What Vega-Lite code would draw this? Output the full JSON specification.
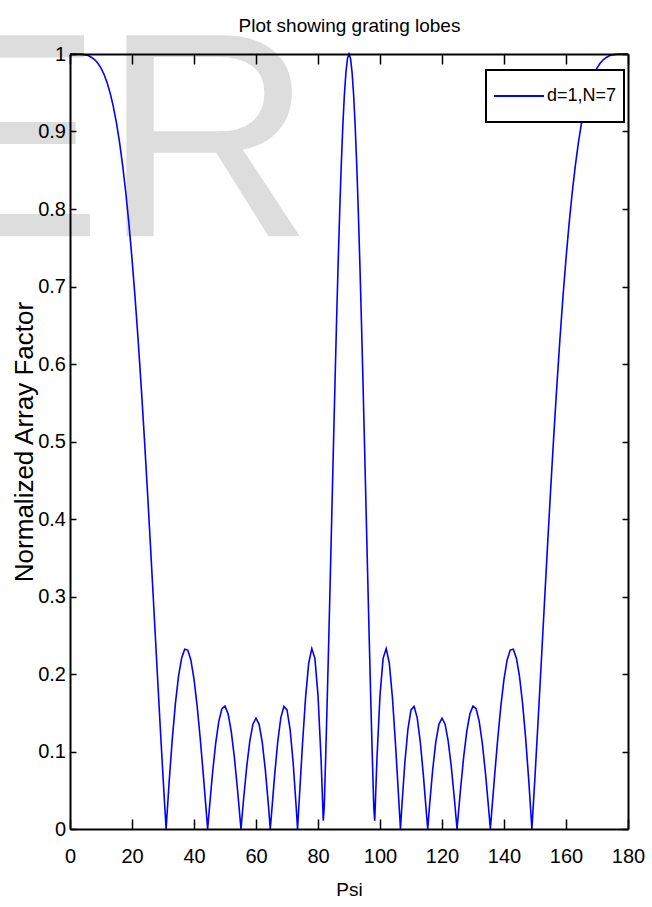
{
  "$schema": "https://vega.github.io/schema/vega-lite/v6.json",
  "autosize": {"type": "none"},
  "width": 558,
  "height": 775,
  "padding": {"left": 70, "top": 54, "right": 24, "bottom": 78},
  "background": "white",
  "config": {"view": {"stroke": null}},
  "resolve": {"axis": {"x": "independent", "y": "independent"}},
  "layer": [
    {
      "data": {"values": [{"wm": "ER"}]},
      "mark": {"type": "text", "font": "Liberation Sans", "fontSize": 292, "color": "#dddddd", "align": "right", "baseline": "alphabetic"},
      "encoding": {
        "text": {"field": "wm", "type": "nominal"},
        "x": {"datum": 78.5, "type": "quantitative", "scale": {"domain": [0, 180], "nice": false, "zero": false},
          "axis": {"orient": "top", "labels": false, "values": [0, 20, 40, 60, 80, 100, 120, 140, 160, 180], "tickSize": -10, "tickColor": "black", "tickWidth": 1.5, "domainColor": "black", "domainWidth": 2, "grid": false, "zindex": 1,
            "title": "Plot showing grating lobes", "titleFont": "Liberation Sans", "titleFontSize": 19, "titleFontWeight": "normal", "titleColor": "black", "titleBaseline": "alphabetic", "titlePadding": 21.5}},
        "y": {"datum": 0.765, "type": "quantitative", "scale": {"domain": [0, 1], "nice": false, "zero": false},
          "axis": {"orient": "right", "labels": false, "title": null, "values": [0, 0.1, 0.2, 0.3, 0.4, 0.5, 0.6, 0.7, 0.8, 0.9, 1], "tickSize": -6, "tickColor": "black", "tickWidth": 1.5, "domainColor": "black", "domainWidth": 2, "grid": false, "zindex": 1}}
      }
    },
    {
      "data": {"values": [
        {"psi": 0, "af": 1}, {"psi": 1, "af": 1}, {"psi": 2, "af": 1}, {"psi": 3, "af": 0.9999}, {"psi": 4, "af": 0.9995},
        {"psi": 5, "af": 0.9989}, {"psi": 6, "af": 0.9976}, {"psi": 7, "af": 0.9956}, {"psi": 8, "af": 0.9925}, {"psi": 9, "af": 0.9881},
        {"psi": 10, "af": 0.9819}, {"psi": 11, "af": 0.9736}, {"psi": 12, "af": 0.9627}, {"psi": 13, "af": 0.9489}, {"psi": 14, "af": 0.9317},
        {"psi": 15, "af": 0.9108}, {"psi": 16, "af": 0.8855}, {"psi": 17, "af": 0.8557}, {"psi": 18, "af": 0.821}, {"psi": 19, "af": 0.7812},
        {"psi": 20, "af": 0.736}, {"psi": 21, "af": 0.6854}, {"psi": 22, "af": 0.6296}, {"psi": 23, "af": 0.5689}, {"psi": 24, "af": 0.5037},
        {"psi": 25, "af": 0.4346}, {"psi": 26, "af": 0.3624}, {"psi": 27, "af": 0.2884}, {"psi": 28, "af": 0.2136}, {"psi": 29, "af": 0.1396},
        {"psi": 30, "af": 0.0679}, {"psi": 31, "af": 0}, {"psi": 32, "af": 0.0618}, {"psi": 33, "af": 0.1163}, {"psi": 34, "af": 0.1618},
        {"psi": 35, "af": 0.1969}, {"psi": 36, "af": 0.2205}, {"psi": 37, "af": 0.2319}, {"psi": 38, "af": 0.2309}, {"psi": 39, "af": 0.2178},
        {"psi": 40, "af": 0.1934}, {"psi": 41, "af": 0.1592}, {"psi": 42, "af": 0.1173}, {"psi": 43, "af": 0.0701}, {"psi": 44, "af": 0.0205},
        {"psi": 44.4, "af": 0}, {"psi": 45, "af": 0.0282}, {"psi": 46, "af": 0.073}, {"psi": 47, "af": 0.1107}, {"psi": 48, "af": 0.1388},
        {"psi": 49, "af": 0.1552}, {"psi": 50, "af": 0.1586}, {"psi": 51, "af": 0.1487}, {"psi": 52, "af": 0.1263}, {"psi": 53, "af": 0.0933},
        {"psi": 54, "af": 0.0523}, {"psi": 55, "af": 0.0069}, {"psi": 55.15, "af": 0}, {"psi": 56, "af": 0.0387}, {"psi": 57, "af": 0.0802},
        {"psi": 58, "af": 0.1135}, {"psi": 59, "af": 0.1353}, {"psi": 60, "af": 0.1429}, {"psi": 61, "af": 0.1351}, {"psi": 62, "af": 0.1124},
        {"psi": 63, "af": 0.0766}, {"psi": 64, "af": 0.0311}, {"psi": 64.6, "af": 0}, {"psi": 65, "af": 0.0192}, {"psi": 66, "af": 0.0689},
        {"psi": 67, "af": 0.1122}, {"psi": 68, "af": 0.1434}, {"psi": 69, "af": 0.1582}, {"psi": 70, "af": 0.1536}, {"psi": 71, "af": 0.1286},
        {"psi": 72, "af": 0.0849}, {"psi": 73, "af": 0.0262}, {"psi": 73.4, "af": 0}, {"psi": 74, "af": 0.0412}, {"psi": 75, "af": 0.1097},
        {"psi": 76, "af": 0.1702}, {"psi": 77, "af": 0.214}, {"psi": 78, "af": 0.2328}, {"psi": 79, "af": 0.2202}, {"psi": 80, "af": 0.1725},
        {"psi": 81, "af": 0.089}, {"psi": 81.7, "af": 0.0108}, {"psi": 82, "af": 0.0273}, {"psi": 82.5, "af": 0.0959}, {"psi": 83, "af": 0.1703},
        {"psi": 83.5, "af": 0.249}, {"psi": 84, "af": 0.3307}, {"psi": 84.5, "af": 0.4139}, {"psi": 85, "af": 0.497}, {"psi": 85.5, "af": 0.5784},
        {"psi": 86, "af": 0.6567}, {"psi": 86.5, "af": 0.73}, {"psi": 87, "af": 0.797}, {"psi": 87.5, "af": 0.8562}, {"psi": 88, "af": 0.9065},
        {"psi": 88.5, "af": 0.9467}, {"psi": 89, "af": 0.976}, {"psi": 89.5, "af": 0.9941}, {"psi": 90, "af": 1},
        {"psi": 90.5, "af": 0.9941}, {"psi": 91, "af": 0.976}, {"psi": 91.5, "af": 0.9467}, {"psi": 92, "af": 0.9065}, {"psi": 92.5, "af": 0.8562},
        {"psi": 93, "af": 0.797}, {"psi": 93.5, "af": 0.73}, {"psi": 94, "af": 0.6567}, {"psi": 94.5, "af": 0.5784}, {"psi": 95, "af": 0.497},
        {"psi": 95.5, "af": 0.4139}, {"psi": 96, "af": 0.3307}, {"psi": 96.5, "af": 0.249}, {"psi": 97, "af": 0.1703}, {"psi": 97.5, "af": 0.0959},
        {"psi": 98, "af": 0.0273}, {"psi": 98.3, "af": 0.0108}, {"psi": 99, "af": 0.089}, {"psi": 100, "af": 0.1725}, {"psi": 101, "af": 0.2202},
        {"psi": 102, "af": 0.2328}, {"psi": 103, "af": 0.214}, {"psi": 104, "af": 0.1702}, {"psi": 105, "af": 0.1097}, {"psi": 106, "af": 0.0412},
        {"psi": 106.6, "af": 0}, {"psi": 107, "af": 0.0262}, {"psi": 108, "af": 0.0849}, {"psi": 109, "af": 0.1286}, {"psi": 110, "af": 0.1536},
        {"psi": 111, "af": 0.1582}, {"psi": 112, "af": 0.1434}, {"psi": 113, "af": 0.1122}, {"psi": 114, "af": 0.0689}, {"psi": 115, "af": 0.0192},
        {"psi": 115.4, "af": 0}, {"psi": 116, "af": 0.0311}, {"psi": 117, "af": 0.0766}, {"psi": 118, "af": 0.1124}, {"psi": 119, "af": 0.1351},
        {"psi": 120, "af": 0.1429}, {"psi": 121, "af": 0.1353}, {"psi": 122, "af": 0.1135}, {"psi": 123, "af": 0.0802}, {"psi": 124, "af": 0.0387},
        {"psi": 124.85, "af": 0}, {"psi": 125, "af": 0.0069}, {"psi": 126, "af": 0.0523}, {"psi": 127, "af": 0.0933}, {"psi": 128, "af": 0.1263},
        {"psi": 129, "af": 0.1487}, {"psi": 130, "af": 0.1586}, {"psi": 131, "af": 0.1552}, {"psi": 132, "af": 0.1388}, {"psi": 133, "af": 0.1107},
        {"psi": 134, "af": 0.073}, {"psi": 135, "af": 0.0282}, {"psi": 135.6, "af": 0}, {"psi": 136, "af": 0.0205}, {"psi": 137, "af": 0.0701},
        {"psi": 138, "af": 0.1173}, {"psi": 139, "af": 0.1592}, {"psi": 140, "af": 0.1934}, {"psi": 141, "af": 0.2178}, {"psi": 142, "af": 0.2309},
        {"psi": 143, "af": 0.2319}, {"psi": 144, "af": 0.2205}, {"psi": 145, "af": 0.1969}, {"psi": 146, "af": 0.1618}, {"psi": 147, "af": 0.1163},
        {"psi": 148, "af": 0.0618}, {"psi": 149, "af": 0}, {"psi": 150, "af": 0.0679}, {"psi": 151, "af": 0.1396}, {"psi": 152, "af": 0.2136},
        {"psi": 153, "af": 0.2884}, {"psi": 154, "af": 0.3624}, {"psi": 155, "af": 0.4346}, {"psi": 156, "af": 0.5037}, {"psi": 157, "af": 0.5689},
        {"psi": 158, "af": 0.6296}, {"psi": 159, "af": 0.6854}, {"psi": 160, "af": 0.736}, {"psi": 161, "af": 0.7812}, {"psi": 162, "af": 0.821},
        {"psi": 163, "af": 0.8557}, {"psi": 164, "af": 0.8855}, {"psi": 165, "af": 0.9108}, {"psi": 166, "af": 0.9317}, {"psi": 167, "af": 0.9489},
        {"psi": 168, "af": 0.9627}, {"psi": 169, "af": 0.9736}, {"psi": 170, "af": 0.9819}, {"psi": 171, "af": 0.9881}, {"psi": 172, "af": 0.9925},
        {"psi": 173, "af": 0.9956}, {"psi": 174, "af": 0.9976}, {"psi": 175, "af": 0.9989}, {"psi": 176, "af": 0.9995}, {"psi": 177, "af": 0.9999},
        {"psi": 178, "af": 1}, {"psi": 179, "af": 1}, {"psi": 180, "af": 1}
      ]},
      "mark": {"type": "line", "strokeWidth": 1.6},
      "encoding": {
        "x": {"field": "psi", "type": "quantitative", "scale": {"domain": [0, 180], "nice": false, "zero": false},
          "axis": {"orient": "bottom", "values": [0, 20, 40, 60, 80, 100, 120, 140, 160, 180], "labelFont": "Liberation Sans", "labelFontSize": 20, "labelColor": "black", "labelFlush": false, "labelOverlap": false, "labelPadding": 27, "tickSize": -10, "tickColor": "black", "tickWidth": 1.5, "domainColor": "black", "domainWidth": 2, "grid": false, "zindex": 1,
            "title": "Psi", "titleFont": "Liberation Sans", "titleFontSize": 19, "titleFontWeight": "normal", "titleColor": "black", "titlePadding": 14}},
        "y": {"field": "af", "type": "quantitative", "scale": {"domain": [0, 1], "nice": false, "zero": false},
          "axis": {"orient": "left", "values": [0, 0.1, 0.2, 0.3, 0.4, 0.5, 0.6, 0.7, 0.8, 0.9, 1], "format": "~g", "labelFont": "Liberation Sans", "labelFontSize": 20, "labelColor": "black", "labelFlush": false, "labelOverlap": false, "labelPadding": 10.5, "tickSize": -6, "tickColor": "black", "tickWidth": 1.5, "domainColor": "black", "domainWidth": 2, "grid": false, "zindex": 1,
            "title": "Normalized Array Factor", "titleFont": "Liberation Sans", "titleFontSize": 26, "titleFontWeight": "normal", "titleColor": "black", "titlePadding": 0}},
        "color": {"datum": "d=1,N=7", "type": "nominal", "scale": {"range": ["#0000ff"]},
          "legend": {"orient": "none", "legendX": 416, "legendY": 16, "title": null, "symbolType": "stroke", "symbolSize": 2500, "symbolStrokeWidth": 2, "symbolStrokeColor": "#0000ff",
            "labelFont": "Liberation Sans", "labelFontSize": 18, "labelColor": "black", "labelOffset": 2, "padding": 7, "clipHeight": 38,
            "strokeColor": "black", "fillColor": "white",
            "encode": {"legend": {"update": {"strokeWidth": {"value": 2}}}}}}
      }
    }
  ]
}
